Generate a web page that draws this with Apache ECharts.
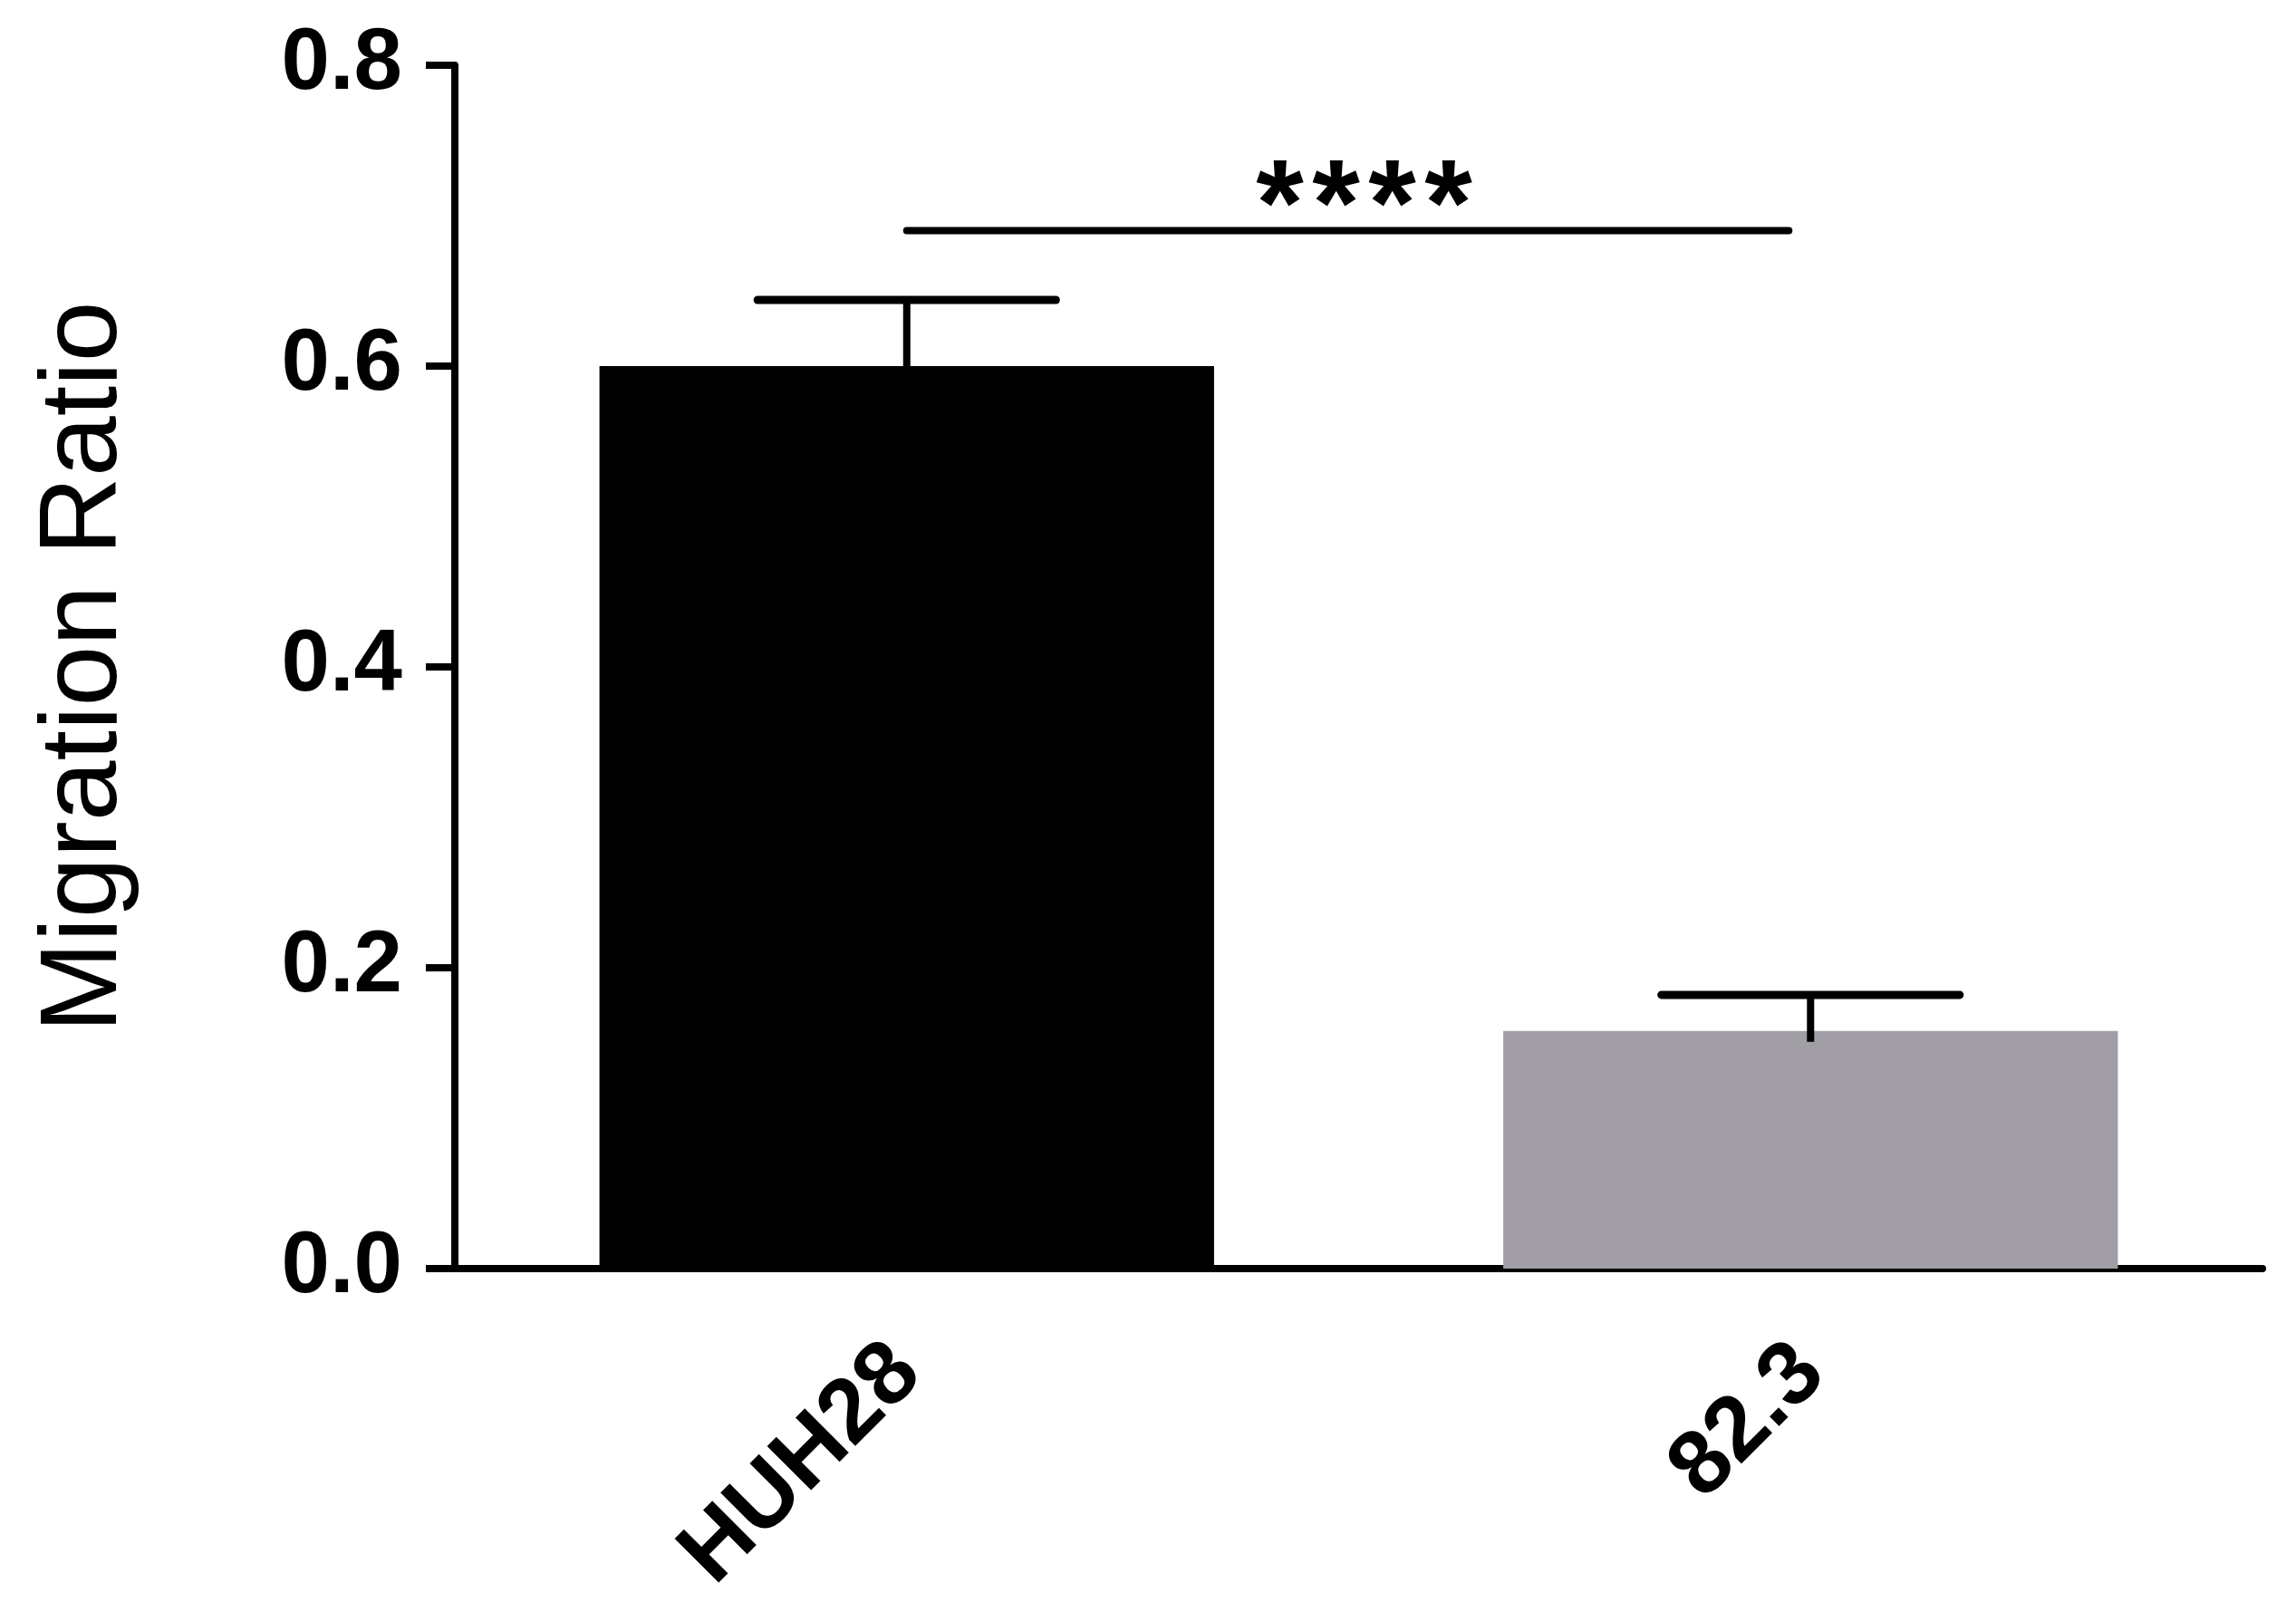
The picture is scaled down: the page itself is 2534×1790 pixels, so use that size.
<!DOCTYPE html>
<html>
<head>
<meta charset="utf-8">
<script src="https://cdn.jsdelivr.net/npm/echarts@6/dist/echarts.min.js"></script>
<style>
  html, body { margin: 0; padding: 0; background: #fff; }
  #chart { width: 2534px; height: 1790px; }
</style>
</head>
<body>
<div id="chart"></div>
<script>
// data
const categories = ['HUH28', '82.3'];
const means = [0.600, 0.158];
const errors = [0.044, 0.024];
const barColors = ['#000000', '#a19fa5'];
const yTicks = [0, 0.2, 0.4, 0.6, 0.8];
const sigFrom = 0;
const sigTo = 1;
const sigLevel = 0.69;
const sigText = '****';

const font = "'Liberation Sans', Arial, sans-serif";
const chart = echarts.init(document.getElementById('chart'));

const option = {
  animation: false,
  backgroundColor: '#ffffff',
  grid: {
    left: 502, right: 37, top: 72, bottom: 390,
    containLabel: false,
    outerBoundsMode: 'none'
  },
  xAxis: {
    type: 'category',
    data: categories,
    axisLine: { lineStyle: { color: '#000', width: 8 } },
    axisTick: { alignWithLabel: true, length: 38, lineStyle: { color: '#000', width: 8 } },
    axisLabel: {
      rotate: 45,
      margin: 100,
      color: '#000',
      fontSize: 100,
      fontWeight: 'bold',
      fontFamily: font
    },
    splitLine: { show: false }
  },
  yAxis: {
    type: 'value',
    min: yTicks[0],
    max: yTicks[yTicks.length - 1],
    interval: 0.2,
    name: 'Migration Ratio',
    nameLocation: 'middle',
    nameGap: 347,
    nameTextStyle: { color: '#000', fontSize: 120, fontFamily: font },
    axisLine: { show: true, lineStyle: { color: '#000', width: 8 } },
    axisTick: { show: true, length: 32, lineStyle: { color: '#000', width: 8 } },
    axisLabel: {
      margin: 58,
      color: '#000',
      fontSize: 96,
      fontWeight: 'bold',
      fontFamily: font,
      formatter: (v) => v.toFixed(1)
    },
    splitLine: { show: false }
  },
  series: [
    {
      type: 'bar',
      barWidth: '68%',
      data: means.map((m, i) => ({ value: m, itemStyle: { color: barColors[i] } }))
    },
    {
      // error bars (mean + SEM)
      type: 'custom',
      data: means.map((m, i) => [i, m, errors[i]]),
      renderItem: (params, api) => {
        const x = api.value(0);
        const m = api.value(1);
        const e = api.value(2);
        const base = api.coord([x, m]);
        const top = api.coord([x, m + e]);
        const capHalf = api.size([1, 0])[0] * 0.165;
        return {
          type: 'group',
          children: [
            { type: 'line', shape: { x1: base[0], y1: base[1] + 12, x2: top[0], y2: top[1] },
              style: { stroke: '#000', lineWidth: 8 } },
            { type: 'line', shape: { x1: top[0] - capHalf, y1: top[1], x2: top[0] + capHalf, y2: top[1] },
              style: { stroke: '#000', lineWidth: 9, lineCap: 'round' } }
          ]
        };
      },
      z: 3
    },
    {
      // significance line + stars
      type: 'custom',
      data: [[sigFrom, sigTo, sigLevel]],
      renderItem: (params, api) => {
        const a = api.coord([api.value(0), api.value(2)]);
        const b = api.coord([api.value(1), api.value(2)]);
        const mid = (a[0] + b[0]) / 2 + 6;
        const pitch = 62;
        const chars = sigText.split('');
        const stars = chars.map((c, k) => ({
          type: 'text',
          x: mid + (k - (chars.length - 1) / 2) * pitch,
          y: a[1] - 22,
          style: { text: c, fill: '#000', font: 'bold 135px ' + font,
                   align: 'center', verticalAlign: 'middle' }
        }));
        return {
          type: 'group',
          children: [
            { type: 'line', shape: { x1: a[0], y1: a[1], x2: b[0] - 24, y2: b[1] },
              style: { stroke: '#000', lineWidth: 8, lineCap: 'round' } }
          ].concat(stars)
        };
      },
      z: 3
    }
  ]
};

chart.setOption(option);
</script>
</body>
</html>
